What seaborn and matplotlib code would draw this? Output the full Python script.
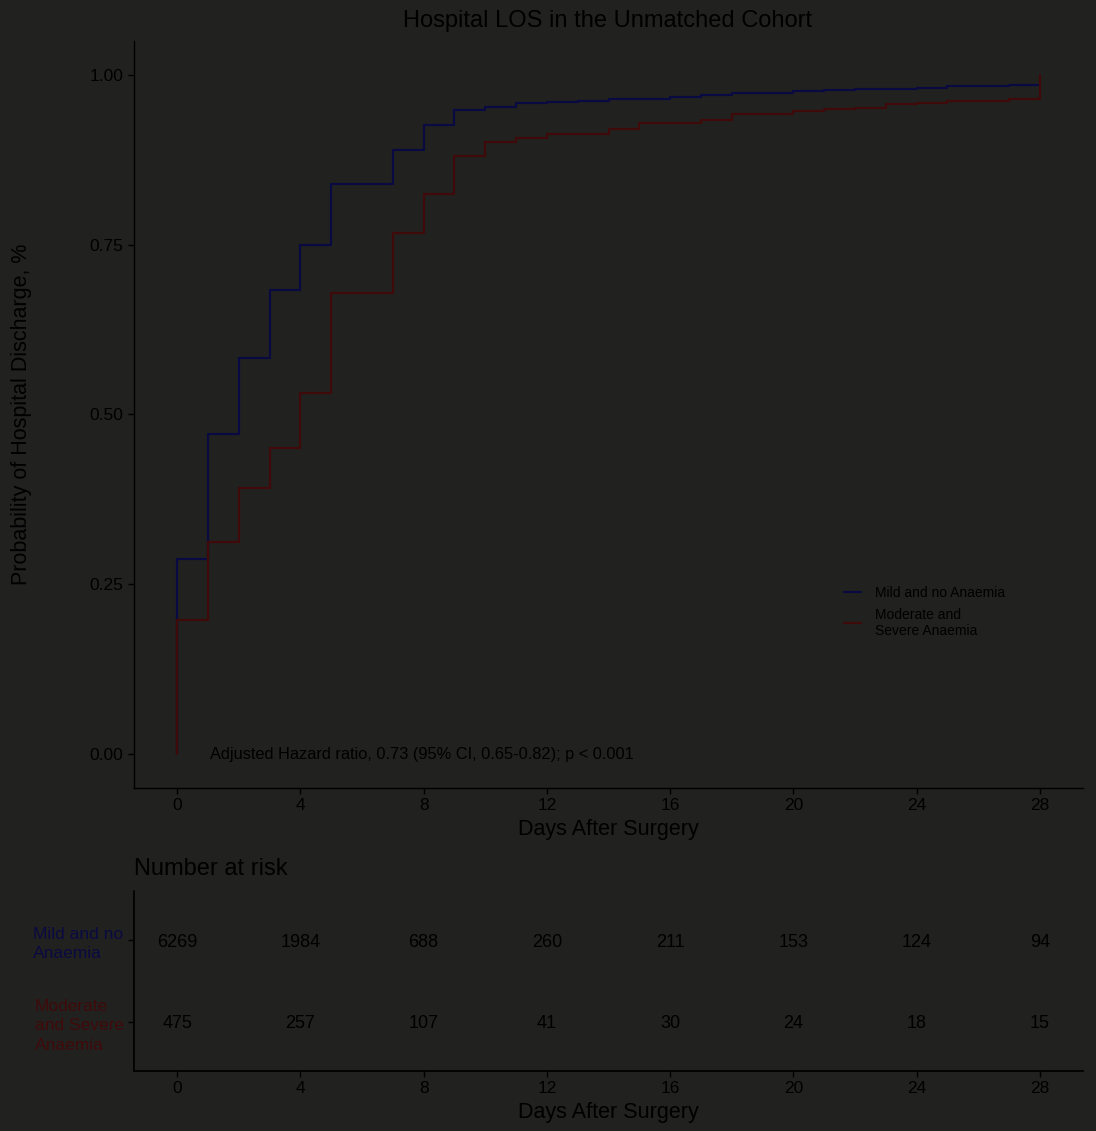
import numpy as np
import pandas as pd
import matplotlib
matplotlib.use("Agg")
import matplotlib.pyplot as plt
import seaborn as sns

# ---- data ----
groups = ["Mild and no Anaemia", "Moderate and\nSevere Anaemia"]
row_labels = ["Mild and no\nAnaemia", "Moderate\nand Severe\nAnaemia"]

days_mild = [0, 0, 1, 2, 3, 4, 5, 6, 7, 8, 9, 10, 11, 12, 13, 14, 15, 16, 17, 18, 19, 20,
             21, 22, 23, 24, 25, 26, 27, 28]
prob_mild = [0.0, 0.287, 0.471, 0.583, 0.684, 0.750, 0.840, 0.840, 0.889, 0.927, 0.949,
             0.953, 0.958, 0.960, 0.962, 0.964, 0.965, 0.968, 0.970, 0.974, 0.974, 0.976,
             0.978, 0.979, 0.979, 0.981, 0.983, 0.983, 0.985, 0.985]

days_mod = [0, 0, 1, 2, 3, 4, 5, 6, 7, 8, 9, 10, 11, 12, 13, 14, 15, 16, 17, 18, 19, 20,
            21, 22, 23, 24, 25, 26, 27, 28, 28]
prob_mod = [0.0, 0.197, 0.312, 0.392, 0.451, 0.531, 0.679, 0.679, 0.767, 0.825, 0.881,
            0.902, 0.907, 0.913, 0.913, 0.921, 0.929, 0.929, 0.933, 0.943, 0.943, 0.947,
            0.950, 0.952, 0.957, 0.959, 0.962, 0.962, 0.964, 0.964, 1.0]

risk_days = [0, 4, 8, 12, 16, 20, 24, 28]
risk_mild = [6269, 1984, 688, 260, 211, 153, 124, 94]
risk_mod = [475, 257, 107, 41, 30, 24, 18, 15]

hr_text = "Adjusted Hazard ratio, 0.73 (95% CI, 0.65-0.82); p < 0.001"

# colours (the reference is very dark overall)
BG = "#212120"
BLUE = "#0a0a42"
RED = "#400a0a"
INK = "#000000"

df = pd.DataFrame({
    "day": days_mild + days_mod,
    "prob": prob_mild + prob_mod,
    "group": [groups[0]] * len(days_mild) + [groups[1]] * len(days_mod),
})

sns.set_theme(style="ticks")
plt.rcParams["font.family"] = ["Liberation Sans", "DejaVu Sans"]
plt.rcParams["text.color"] = INK
plt.rcParams["axes.labelcolor"] = INK
plt.rcParams["xtick.color"] = INK
plt.rcParams["ytick.color"] = INK
plt.rcParams["axes.edgecolor"] = "#000000"

fig = plt.figure(figsize=(10.96, 11.31), dpi=100, facecolor=BG)
W, H = 1096, 1131

ax = fig.add_axes([134 / W, 1 - 788 / H, (1083 - 134) / W, (788 - 41) / H], facecolor=BG)
sns.lineplot(data=df, x="day", y="prob", hue="group", hue_order=groups,
             palette={groups[0]: BLUE, groups[1]: RED}, estimator=None,
             drawstyle="steps-post", linewidth=1.6, ax=ax)

ax.set_xlim(-1.4, 29.4)
ax.set_ylim(-0.05, 1.05)
ax.set_xticks(risk_days)
ax.set_yticks([0, 0.25, 0.5, 0.75, 1.0])
ax.set_yticklabels(["0.00", "0.25", "0.50", "0.75", "1.00"])
ax.tick_params(labelsize=12.5, length=4, width=1, color="#000000")
for s in ["top", "right"]:
    ax.spines[s].set_visible(False)
for s in ["left", "bottom"]:
    ax.spines[s].set_linewidth(1)

ax.set_xlabel("Days After Surgery", fontsize=15.5)
ax.xaxis.set_label_coords(0.5, -0.041)
ax.set_ylabel("Probability of Hospital Discharge, %", fontsize=15.5)
ax.yaxis.set_label_coords(-0.108, 0.5)

ax.text(1.07, 0.0, hr_text, fontsize=11.8, ha="left", va="center")

ax.legend(loc="upper left", bbox_to_anchor=(0.735, 0.287), frameon=False,
          fontsize=10, handlelength=1.2, handletextpad=1.0, labelspacing=0.55)

fig.text(608 / W, 1 - 21 / H, "Hospital LOS in the Unmatched Cohort", fontsize=17,
         ha="center", va="center")

# ---- number at risk table ----
ax2 = fig.add_axes([134 / W, 1 - 1071 / H, (1083 - 134) / W, (1071 - 891) / H], facecolor=BG)
ax2.set_xlim(-1.4, 29.4)
ax2.set_ylim(0.4, 2.6)
for d, m, r in zip(risk_days, risk_mild, risk_mod):
    ax2.text(d, 2, str(m), fontsize=13, ha="center", va="center_baseline")
    ax2.text(d, 1, str(r), fontsize=13, ha="center", va="center_baseline")
ax2.set_xticks(risk_days)
ax2.set_yticks([2, 1])
ax2.set_yticklabels(row_labels, linespacing=1.4, multialignment="left")
for lab, col in zip(ax2.get_yticklabels(), [BLUE, RED]):
    lab.set_color(col)
ax2.tick_params(axis="y", labelsize=12.5, length=4, width=1, color="#000000")
ax2.tick_params(axis="x", labelsize=12.5, length=4, width=1, color="#000000")
for s in ["top", "right"]:
    ax2.spines[s].set_visible(False)
ax2.set_xlabel("Days After Surgery", fontsize=15.5)
ax2.xaxis.set_label_coords(0.5, -0.17)
ax2.set_ylabel("")

fig.text(134 / W, 1 - 869 / H, "Number at risk", fontsize=17, ha="left", va="center")

fig.savefig("out.png", dpi=100, facecolor=BG)
